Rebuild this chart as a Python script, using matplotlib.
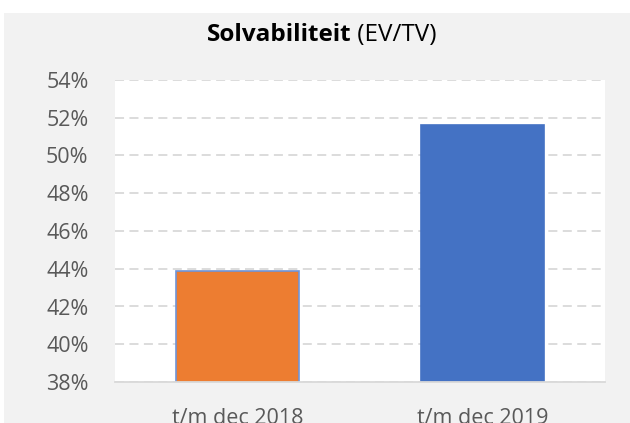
import matplotlib.pyplot as plt
from matplotlib.patches import Rectangle

# Data
categories = ['t/m dec 2018', 't/m dec 2019']
values = [43.9, 51.6]
bar_colors = ['#ED7D31', '#4472C4']
yticks = [38, 40, 42, 44, 46, 48, 50, 52, 54]

plt.rcParams['font.family'] = ['Open Sans', 'DejaVu Sans']

fig = plt.figure(figsize=(6.3, 4.23), dpi=100)
fig.patch.set_facecolor('white')

# grey chart area background
fig.patches.append(Rectangle((4 / 630, 0), 1, 1 - 13 / 423, transform=fig.transFigure,
                             facecolor='#f2f2f2', edgecolor='none', zorder=-10))

ax = fig.add_axes([115 / 630, 41 / 423, 490 / 630, 302 / 423])
ax.set_facecolor('white')

x = range(len(categories))
ax.bar(x, values, width=0.5, color=bar_colors,
       edgecolor=['#6f95d8', bar_colors[1]], linewidth=1.2, zorder=3)

ax.set_xlim(-0.5, 1.5)
ax.set_ylim(38, 54)
ax.set_yticks(yticks)
ax.set_yticklabels([f'{v}%' for v in yticks])
ax.set_xticks(list(x))
ax.set_xticklabels(categories)

ax.grid(axis='y', color='#d9d9d9', linestyle=(0, (5, 3)), linewidth=1.3, zorder=0)
ax.set_axisbelow(True)
for s in ['top', 'right', 'left']:
    ax.spines[s].set_visible(False)
ax.spines['bottom'].set_color('#d9d9d9')
ax.spines['bottom'].set_linewidth(1.3)
ax.spines['bottom'].set_zorder(4)

ax.tick_params(axis='both', length=0, labelsize=15.5, colors='#595959')
ax.tick_params(axis='y', pad=19)
ax.tick_params(axis='x', pad=19)

# title: bold part + normal part, centred together
fig.canvas.draw()
renderer = fig.canvas.get_renderer()
t1 = fig.text(0, 0, 'Solvabiliteit', fontsize=17.5, fontweight='bold', color='black')
t2 = fig.text(0, 0, ' (EV/TV)', fontsize=17.5, color='black')
w1 = t1.get_window_extent(renderer).width
w2 = t2.get_window_extent(renderer).width
total = w1 + w2
start = (643 - total) / 2 / 630
ty = 1 - 41 / 423
t1.set_position((start, ty))
t2.set_position((start + w1 / 630, ty))

fig.savefig('out.png', dpi=100)
